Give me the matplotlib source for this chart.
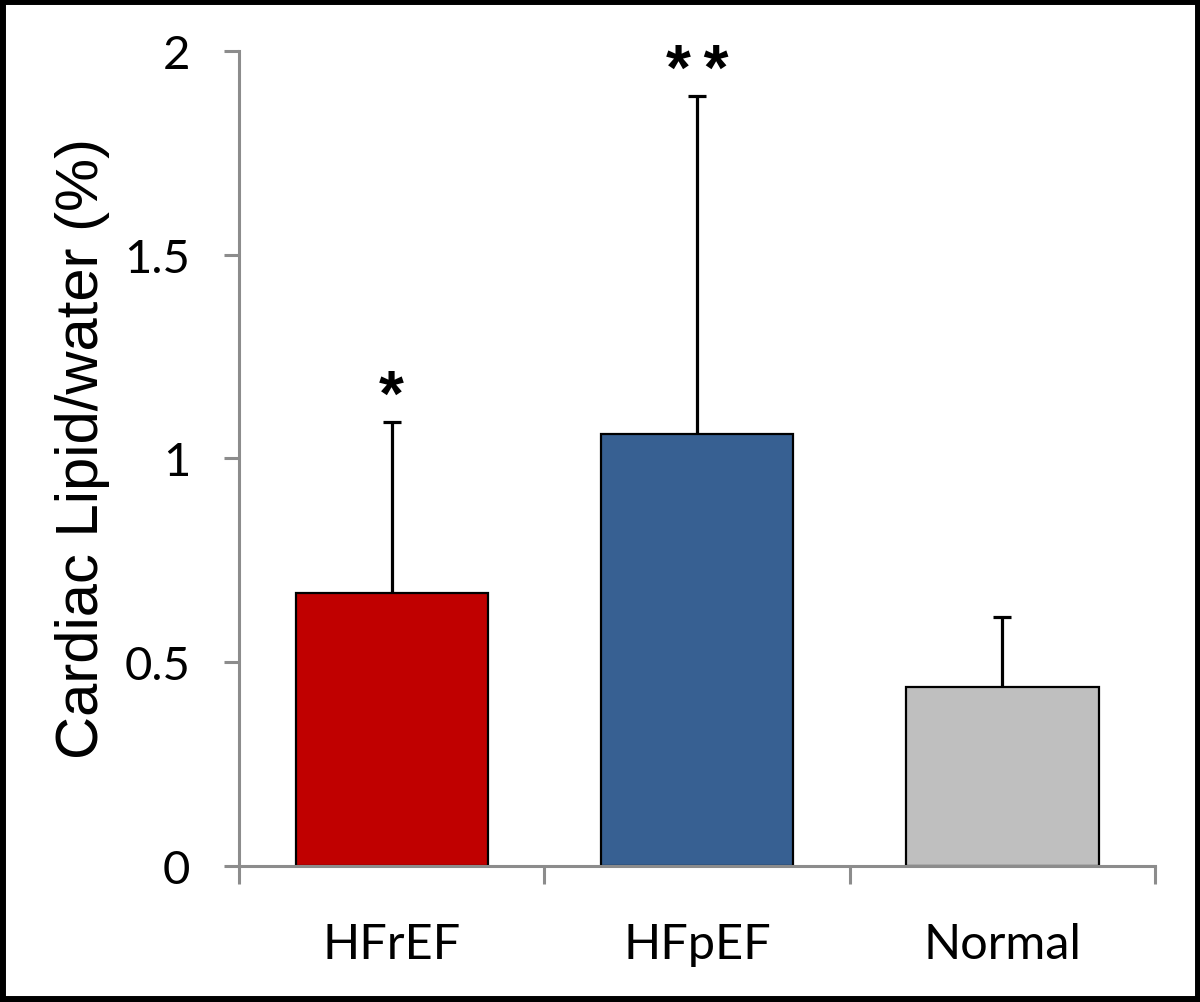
import matplotlib
matplotlib.use('Agg')
import matplotlib.pyplot as plt
import numpy as np

# data
groups = ['HFrEF', 'HFpEF', 'Normal']
means = [0.67, 1.06, 0.44]
errs = [0.42, 0.83, 0.17]
stars = ['*', '*\u2009*', '']
colors = ['#c00000', '#376092', '#bfbfbf']
yticks = [0, 0.5, 1, 1.5, 2]
ytick_labels = ['0', '0.5', '1', '1.5', '2']

fig = plt.figure(figsize=(12, 10.03), dpi=100)
ax = fig.add_axes([0.1992, 0.1356, 0.7633, 0.8126])

x = np.arange(len(groups))
tops = np.array(means) + np.array(errs)
ax.bar(x, means, width=0.63, color=colors, edgecolor='black', linewidth=1.6, zorder=2)
# only upper error bars, like the original
ax.vlines(x, means, tops, color='black', linewidth=2.3, zorder=3)
ax.hlines(tops, x - 0.03, x + 0.03, color='black', linewidth=2.3, zorder=3)

for xi, t, s in zip(x, tops, stars):
    if s:
        ax.text(xi, t - 0.015, s, ha='center', va='bottom', fontsize=46,
                fontweight='bold', family='Liberation Sans')

ax.set_xlim(-0.5, 2.5)
ax.set_ylim(0, 2)
ax.set_yticks(yticks)
ax.set_yticklabels(ytick_labels, fontsize=34, family='Lato')
ax.set_xticks([-0.5, 0.5, 1.5, 2.5])
ax.set_xticklabels([])
ax.set_xticks(x, minor=True)
ax.set_xticklabels(groups, minor=True, fontsize=35, family='Lato')
ax.tick_params(axis='x', which='minor', length=0, pad=40)
ax.tick_params(axis='x', which='major', length=13, width=2.2, color='#8c8c8c', direction='out')
ax.tick_params(axis='y', length=11, width=2.2, color='#8c8c8c', pad=24)

for side in ['top', 'right']:
    ax.spines[side].set_visible(False)
for side in ['left', 'bottom']:
    ax.spines[side].set_color('#8c8c8c')
    ax.spines[side].set_linewidth(2.2)

fig.text(0.069, 0.553, 'Cardiac Lipid/water (%)', rotation=90, ha='center', va='center',
         fontsize=43, family='Liberation Sans')

# black frame around the whole picture
fig.patches.append(plt.Rectangle((0.002, 0.003), 0.996, 0.995, transform=fig.transFigure,
                                 fill=False, edgecolor='black', linewidth=5))

fig.savefig('out.png', dpi=100)
